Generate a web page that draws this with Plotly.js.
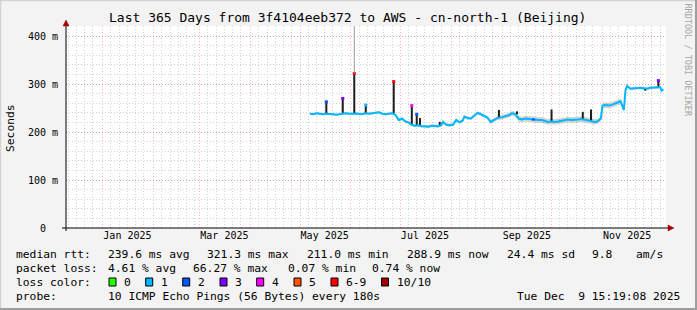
<!DOCTYPE html>
<html><head><meta charset="utf-8">
<script src="https://cdn.plot.ly/plotly-3.0.1.min.js"></script>
<style>html,body{margin:0;padding:0;background:#f3f3f3;overflow:hidden}#chart{width:697px;height:310px}</style>
</head><body><div id="chart"></div><script>
// ---------------- DATA ----------------
const dates = ['2025-05-07','2025-05-09','2025-05-11','2025-05-13','2025-05-15','2025-05-17','2025-05-19','2025-05-21','2025-05-23','2025-05-25','2025-05-27','2025-05-29','2025-05-31',
'2025-06-02','2025-06-03','2025-06-05','2025-06-07','2025-06-09','2025-06-10','2025-06-12','2025-06-14','2025-06-16','2025-06-18','2025-06-20','2025-06-22','2025-06-24','2025-06-26','2025-06-28','2025-06-30',
'2025-07-01','2025-07-02','2025-07-04','2025-07-06','2025-07-08','2025-07-10','2025-07-12','2025-07-14','2025-07-16','2025-07-18','2025-07-20','2025-07-22','2025-07-24','2025-07-26','2025-07-27','2025-07-29','2025-07-31',
'2025-08-02','2025-08-04','2025-08-06','2025-08-08','2025-08-09','2025-08-11','2025-08-13','2025-08-15','2025-08-17','2025-08-19','2025-08-21','2025-08-23','2025-08-25','2025-08-27','2025-08-29',
'2025-09-01','2025-09-03','2025-09-05','2025-09-07','2025-09-09','2025-09-11','2025-09-13','2025-09-15','2025-09-17','2025-09-19','2025-09-21','2025-09-23','2025-09-25','2025-09-27','2025-09-29',
'2025-10-01','2025-10-03','2025-10-05','2025-10-07','2025-10-09','2025-10-11','2025-10-13','2025-10-15','2025-10-17','2025-10-19','2025-10-21','2025-10-23','2025-10-25','2025-10-27','2025-10-29','2025-10-31',
'2025-11-01','2025-11-03','2025-11-05','2025-11-07','2025-11-09','2025-11-11','2025-11-12','2025-11-13','2025-11-14','2025-11-15','2025-11-16','2025-11-18','2025-11-20','2025-11-22','2025-11-24','2025-11-26','2025-11-28','2025-11-30',
'2025-12-02','2025-12-04','2025-12-05','2025-12-06','2025-12-07','2025-12-08'];
const medianMs = [238,237,239,238,237,238,238,237,236,237,238,239,238,
238,239,238,237,238,239,238,239,240,241,238,237,238,239,236,225,
226,228,222,220,215,213,214,212,212,211,213,213,212,214,221,215,214,
215,225,220,224,232,229,228,235,240,237,234,230,221,225,229,
231,233,235,239,237,228,226,228,227,226,226,225,225,223,221,
222,221,222,223,225,226,225,225,226,227,226,225,223,221,222,228,
255,256,255,257,260,262,264,255,246,287,296,290,291,291,292,291,290,292,
292,293,293,294,286,289];
const smokeSpreadMs = [2,2,2,2,2,2,2,2,2,2,2,2,2,
2,3,2,2,2,2,2,2,2,2,2,2,2,2,2,3,
3,3,3,3,3,3,3,3,3,3,3,3,3,3,3,3,3,
3,3,3,3,3,3,3,3,3,3,3,3,4,4,4,
5,5,5,5,5,6,6,6,6,6,6,6,6,6,6,
6,6,6,6,6,6,6,6,6,6,6,6,6,6,5,5,
6,6,6,6,6,6,6,5,5,4,3,3,3,3,3,3,3,3,
3,3,3,3,3,3];
const lossLevel = medianMs.map(()=>1);
lossLevel[dates.indexOf('2025-09-19')] = 2;
lossLevel[dates.indexOf('2025-09-21')] = 2;

const spikeDates  = ['2025-05-17','2025-05-27','2025-06-03','2025-06-10','2025-06-27','2025-07-08','2025-07-11','2025-07-13','2025-07-25','2025-08-30','2025-09-10','2025-10-01','2025-10-20','2025-10-25','2025-11-27','2025-12-05'];
const spikeBaseMs = [238,238,239,239,239,215,213,213,213,229,237,222,227,223,291,293];
const spikeTopMs  = [263,270,322,256,305,255,237,229,221,246,243,247,242,247,286,307];
const spikeLoss   = [2,3,6,1,6,4,2,-1,-1,-1,-1,-1,-1,-1,-1,3];

const overflowDates = ['2025-06-03'];
const overflowFromMs = [322];
const overflowToMs = [480];

const lossColors = ['#26ff00','#00b8ff','#0059ff','#7e00ff','#ff00ff','#ff5500','#ff0000','#a10000'];
const lossLabels = ['0','1','2','3','4','5','6-9','10/10'];

const yTickVals = [0,100,200,300,400];
const yTickText = ['0\u00a0\u00a0','100 m','200 m','300 m','400 m'];
const monthLabelDates = ['2025-01-16','2025-03-16','2025-05-16','2025-07-16','2025-09-16','2025-11-16'];
const monthLabels = ['Jan 2025','Mar 2025','May 2025','Jul 2025','Sep 2025','Nov 2025'];

const titleText = 'Last 365 Days from 3f4104eeb372 to AWS - cn-north-1 (Beijing)';
const rttStats = ['239.6 ms avg','321.3 ms max','211.0 ms min','288.9 ms now','24.4 ms sd','9.8','am/s'];
const lossStats = ['4.61 % avg','66.27 % max','0.07 % min','0.74 % now'];
const probeText = '10 ICMP Echo Pings (56 Bytes) every 180s';
const stampText = 'Tue Dec  9 15:19:08 2025';

// ---------------- LAYOUT HELPERS ----------------
const L=66, R=666, T=26, B=228;
const px = x => (x-L)/(R-L);
const py = y => (B-y)/(B-T);
const xStart = '2024-12-09 15:19:08', xEnd = '2025-12-09 15:19:08';
const mono = 'DejaVu Sans Mono';
const nb = s => s.replace(/ /g,'\u00a0');

const monthStarts = [], minorDays = [];
for (let m=0;m<13;m++){
  const y = m===0?2024:2025, mo = m===0?12:m;
  const mm = String(mo).padStart(2,'0');
  if (m>0) monthStarts.push(`${y}-${mm}-01`);
  [6,11,16,21,26].forEach(d=>minorDays.push(`${y}-${mm}-${String(d).padStart(2,'0')}`));
}

// ---------------- TRACES ----------------
const traces = [];
traces.push({x:dates, y:medianMs.map((v,i)=>v-smokeSpreadMs[i]), mode:'lines', line:{width:0,color:'rgba(0,0,0,0)'}, hoverinfo:'skip'});
traces.push({x:dates, y:medianMs.map((v,i)=>v+smokeSpreadMs[i]), mode:'lines', line:{width:0,color:'rgba(0,0,0,0)'}, fill:'tonexty', fillcolor:'rgba(120,120,120,0.32)', hoverinfo:'skip'});
{
  const xs=[], ys=[];
  overflowDates.forEach((d,i)=>{xs.push(d,d,null); ys.push(overflowFromMs[i],overflowToMs[i],null);});
  traces.push({x:xs,y:ys,mode:'lines',line:{color:'#9a9a9a',width:1},hoverinfo:'skip',xaxis:'x2'});
}
{
  const xs=[], ys=[];
  spikeDates.forEach((d,i)=>{xs.push(d,d,null); ys.push(spikeBaseMs[i],spikeTopMs[i],null);});
  traces.push({x:xs,y:ys,mode:'lines',line:{color:'#1e1e1e',width:2},hoverinfo:'skip'});
}
traces.push({x:dates,y:medianMs,mode:'lines',line:{color:lossColors[1],width:2},hoverinfo:'skip'});
for (let i=0;i<dates.length-1;i++){
  if (lossLevel[i]!==1 && lossLevel[i+1]===lossLevel[i]){
    traces.push({x:[dates[i],dates[i+1]],y:[medianMs[i],medianMs[i+1]],mode:'lines',line:{color:lossColors[lossLevel[i]],width:2},hoverinfo:'skip'});
  }
}
{
  const xs=[],ys=[],cs=[];
  spikeDates.forEach((d,i)=>{ if(spikeLoss[i]>=0){xs.push(d);ys.push(spikeTopMs[i]);cs.push(lossColors[spikeLoss[i]]);} });
  traces.push({x:xs,y:ys,mode:'markers',marker:{symbol:'square',size:3,color:cs,line:{width:0}},hoverinfo:'skip'});
}

// ---------------- ANNOTATIONS ----------------
const ann = [];
const txt = (x,y,t,opt={}) => ann.push(Object.assign({xref:'paper',yref:'paper',x:px(x),y:py(y),text:nb(t),showarrow:false,xanchor:'left',yanchor:'middle',borderpad:0,borderwidth:0,font:{family:mono,size:11.3,color:'#000'}},opt));
txt(347.5,18,titleText,{xanchor:'center',font:{family:mono,size:13,color:'#000'}});
txt(10,128,'Seconds',{xanchor:'center',textangle:-90,font:{family:mono,size:11.3,color:'#000'}});
txt(687.5,60,'RRDTOOL / TOBI OETIKER',{xanchor:'center',textangle:90,font:{family:mono,size:8.5,color:'#a6a6a6'}});
const r1=254.3,r2=268.3,r3=282.3,r4=296.3;
txt(16,r1,'median rtt:');
[107.5,206.7,306.7,406.7,506.7,592.4,635.6].forEach((x,i)=>txt(x,r1,rttStats[i]));
txt(16,r2,'packet loss:');
[107.5,193,287.6,372].forEach((x,i)=>txt(x,r2,lossStats[i]));
txt(16,r3,'loss color:');
const boxX=[109,145.7,182.7,220,256.7,294,331,381.5];
const shapes=[];
boxX.forEach((bx,i)=>{
  shapes.push({type:'rect',xref:'paper',yref:'paper',x0:px(bx),x1:px(bx+7),y0:py(286),y1:py(278),fillcolor:lossColors[i],line:{color:'#000',width:1}});
  txt(bx+15,r3,lossLabels[i]);
});
txt(16,r4,'probe:');
txt(107.5,r4,probeText);
txt(680,r4,stampText,{xanchor:'right'});

const line=(x0,y0,x1,y1,c,w)=>shapes.push({type:'line',xref:'paper',yref:'paper',x0:px(x0),y0:py(y0),x1:px(x1),y1:py(y1),line:{color:c,width:w}});
line(66,231,66,24,'#000',1);
line(62,228,670,228,'#000',1);
const tri=(pts,c)=>shapes.push({type:'path',xref:'paper',yref:'paper',path:'M'+pts.map(p=>px(p[0])+','+py(p[1])).join(' L')+' Z',fillcolor:c,line:{color:c,width:0.5}});
tri([[63,26],[69,26],[66,20]],'#a10000');
tri([[668,225],[668,231],[674,228]],'#a10000');
line(0,0.5,697,0.5,'#d2d2d2',1.5);
line(0.5,0,0.5,310,'#d2d2d2',1.5);
line(696,0,696,310,'#9e9e9e',2);
line(0,309,697,309,'#9e9e9e',2);

const redGrid='rgba(255,80,80,0.42)', grayGrid='rgba(140,140,140,0.38)';
const layout = {
  width:697,height:310,margin:{l:L,r:697-R,t:T,b:310-B,pad:0},
  paper_bgcolor:'#f3f3f3',plot_bgcolor:'#ffffff',showlegend:false,
  font:{family:mono,size:10,color:'#000'},
  xaxis:{type:'date',range:[xStart,xEnd],tickmode:'array',tickvals:monthStarts,showticklabels:false,ticks:'',
    showgrid:true,gridcolor:redGrid,griddash:'1px,2px',gridwidth:1,zeroline:false,showline:false,
    minor:{tickmode:'array',tickvals:minorDays,showgrid:true,gridcolor:grayGrid,griddash:'1px,2px',gridwidth:1,ticks:''}},
  xaxis2:{type:'date',overlaying:'x',anchor:'y',side:'bottom',range:[xStart,xEnd],tickmode:'array',tickvals:monthLabelDates,ticktext:monthLabels,
    showgrid:false,ticks:'',zeroline:false,showline:false,tickfont:{family:mono,size:10,color:'#000'}},
  yaxis:{range:[0,(B-T)/0.48],tickmode:'array',tickvals:yTickVals,ticktext:yTickText,ticks:'outside',ticklen:5,tickcolor:'rgba(0,0,0,0)',
    showgrid:true,gridcolor:redGrid,griddash:'1px,2px',gridwidth:1,zeroline:false,showline:false,tickfont:{family:mono,size:10,color:'#000'},
    minor:{dtick:20,showgrid:true,gridcolor:grayGrid,griddash:'1px,2px',gridwidth:1,ticks:''}},
  shapes:shapes,annotations:ann
};
Plotly.newPlot('chart',traces,layout,{staticPlot:true,displayModeBar:false});
</script></body></html>
